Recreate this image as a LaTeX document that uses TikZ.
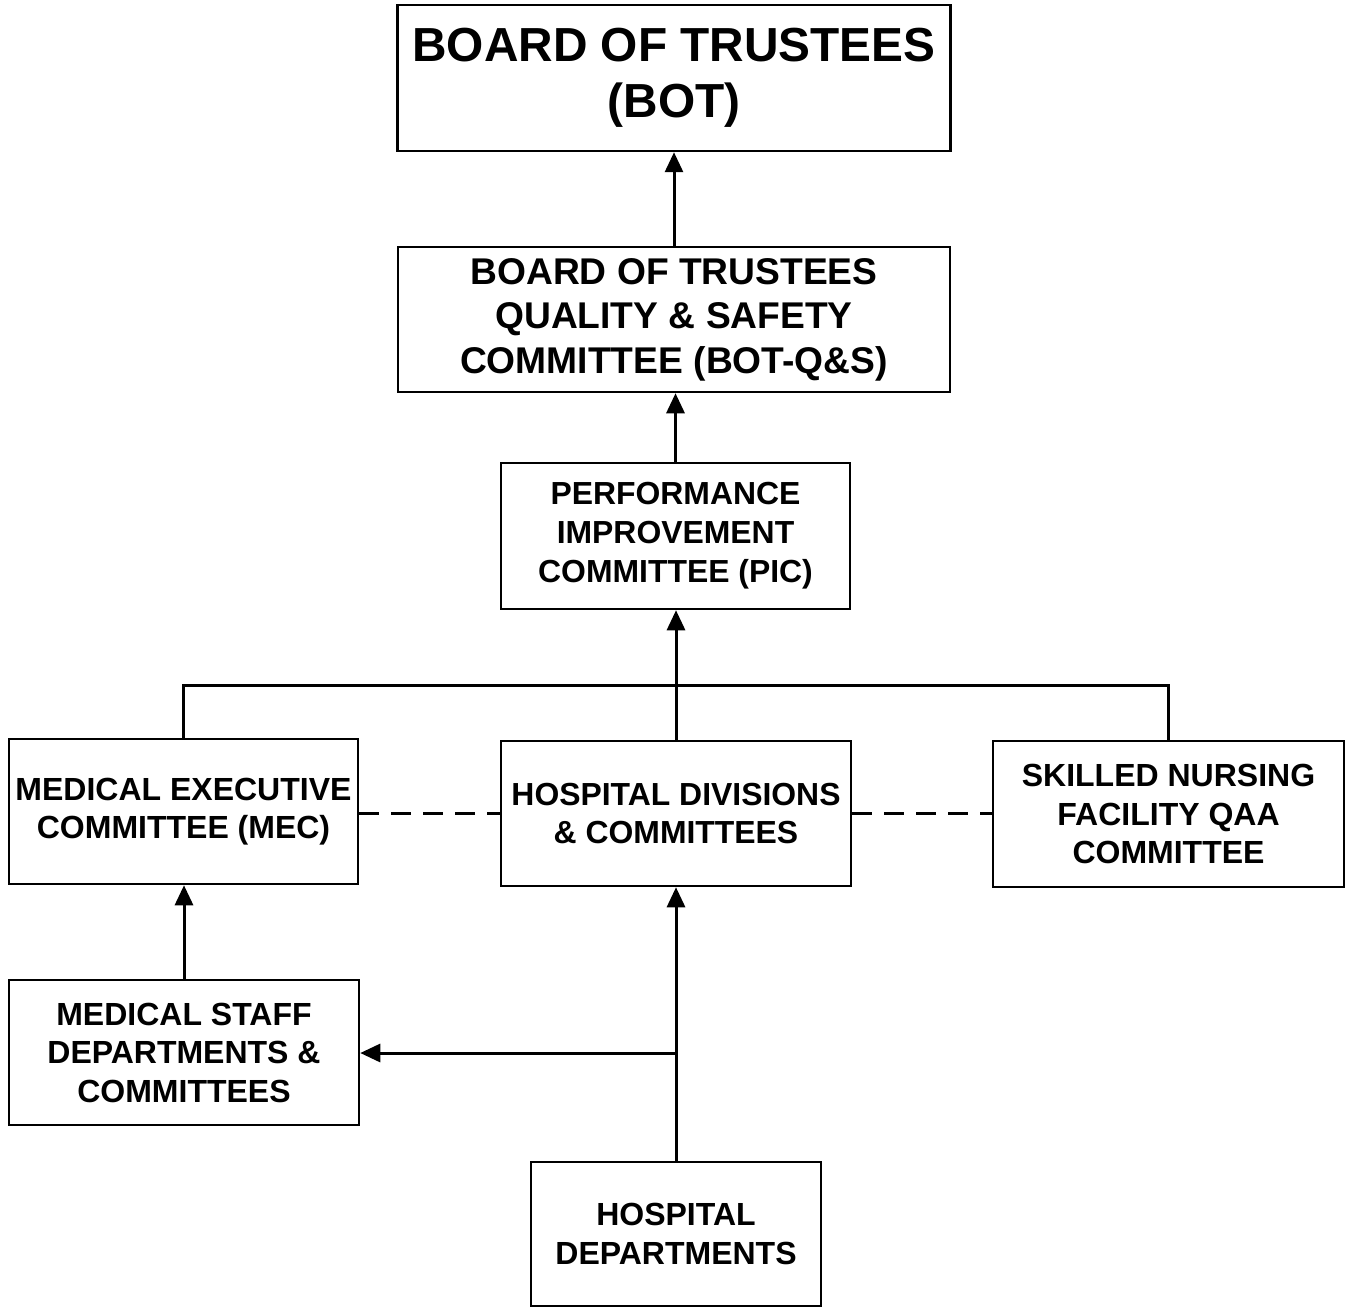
\documentclass[tikz,border=0pt]{standalone}
\usepackage{fontspec}
\setmainfont{Liberation Sans}
\usetikzlibrary{arrows.meta}
\begin{document}
\begin{tikzpicture}[x=1pt,y=-1pt,
  box/.style={draw, line width=2.5pt, inner sep=0pt, align=center, font=\bfseries},
  conn/.style={line width=3pt},
  arr/.style={conn, -{Triangle[length=20pt,width=18pt]}},
  dashline/.style={line width=3pt, dash pattern=on 20pt off 12pt}]
\useasboundingbox (0,0) rectangle (1348,1308);
\node[box, minimum width=553, minimum height=146, font=\bfseries\fontsize{47.8}{56}\selectfont] (bot) at (674,78) {BOARD OF TRUSTEES\\(BOT)};
\node[box, minimum width=552, minimum height=145, font=\bfseries\fontsize{37.2}{44.5}\selectfont] (qs) at (674,319.5) {BOARD OF TRUSTEES\\QUALITY \& SAFETY\\COMMITTEE (BOT-Q\&S)};
\node[box, minimum width=349, minimum height=146, font=\bfseries\fontsize{31.9}{39}\selectfont] (pic) at (675.5,536) {PERFORMANCE\\IMPROVEMENT\\COMMITTEE (PIC)};
\node[box, minimum width=349, minimum height=145, font=\bfseries\fontsize{32}{38.5}\selectfont] (mec) at (183.5,811.5) {MEDICAL EXECUTIVE\\COMMITTEE (MEC)};
\node[box, minimum width=350, minimum height=145, font=\bfseries\fontsize{31.9}{38.5}\selectfont] (hdc) at (676,813.5) {HOSPITAL DIVISIONS\\\& COMMITTEES};
\node[box, minimum width=351, minimum height=146, font=\bfseries\fontsize{32}{38.5}\selectfont] (snf) at (1168.5,814) {SKILLED NURSING\\FACILITY QAA\\COMMITTEE};
\node[box, minimum width=350, minimum height=145, font=\bfseries\fontsize{32}{38.5}\selectfont] (msd) at (184,1052.5) {MEDICAL STAFF\\DEPARTMENTS \&\\COMMITTEES};
\node[box, minimum width=290, minimum height=144, font=\bfseries\fontsize{32}{38.5}\selectfont] (hd) at (676,1234) {HOSPITAL\\DEPARTMENTS};
\coordinate (j) at (676,685);
\coordinate (k) at (676,1053);
\draw[arr] (qs.north) -- (qs.north |- bot.south);
\draw[arr] (pic.north) -- (pic.north |- qs.south);
\draw[arr] (hdc.north) -- (hdc.north |- pic.south);
\draw[conn] (mec.north) |- (j) -| (snf.north);
\draw[dashline] (mec.east |- hdc.west) -- (hdc.west);
\draw[dashline] (hdc.east) -- (hdc.east -| snf.west);
\draw[arr] (msd.north) -- (msd.north |- mec.south);
\draw[arr] (hd.north) -- (hdc.south);
\draw[arr] (k) -- (k -| msd.east);
\end{tikzpicture}
\end{document}
